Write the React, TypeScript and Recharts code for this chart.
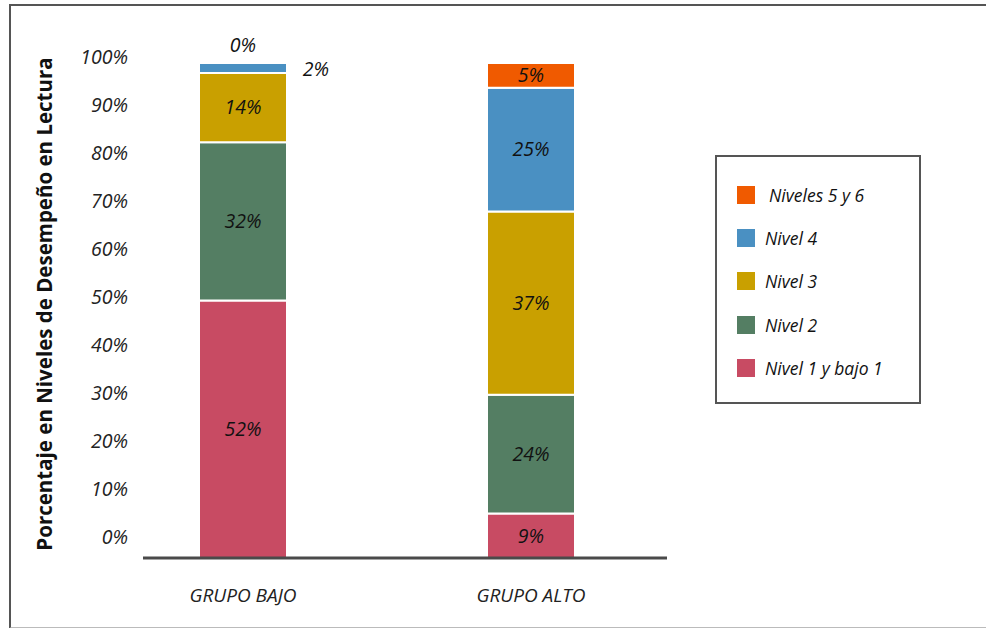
import React from "react";
import { BarChart, Bar, XAxis, YAxis, Legend, LabelList } from "recharts";

const categories = ["GRUPO BAJO", "GRUPO ALTO"];
const nivel1 = [52, 9];
const nivel2 = [32, 24];
const nivel3 = [14, 37];
const nivel4 = [2, 25];
const nivel56 = [0, 5];
const yTicks = [0, 10, 20, 30, 40, 50, 60, 70, 80, 90, 100];

const seriesDefs = [
  { key: "n1", name: "Nivel 1 y bajo 1", values: nivel1, color: "#C84B63" },
  { key: "n2", name: "Nivel 2", values: nivel2, color: "#547E63" },
  { key: "n3", name: "Nivel 3", values: nivel3, color: "#C9A000" },
  { key: "n4", name: "Nivel 4", values: nivel4, color: "#4A90C2" },
  { key: "n56", name: "Niveles 5 y 6", values: nivel56, color: "#F05A00" },
];

const data = categories.map((c, i) => {
  const row: any = { cat: c };
  seriesDefs.forEach((s) => (row[s.key] = s.values[i]));
  return row;
});

const FONT = "'Open Sans', 'DejaVu Sans', sans-serif";

const YTick = (props: any) => {
  const { x, y, payload } = props;
  const v = payload.value;
  const dy = -21 + 0.15 * v;
  return (
    <text x={x} y={y + dy} dy="0.35em" textAnchor="end" fontFamily={FONT} fontStyle="italic" fontSize={19.5} fill="#222">
      {v}%
    </text>
  );
};

const XTick = (props: any) => {
  const { x, y, payload } = props;
  return (
    <text x={x} y={y} dy="0.35em" textAnchor="middle" fontFamily={FONT} fontStyle="italic" fontSize={19} fill="#222">
      {payload.value}
    </text>
  );
};

const labelText = (tx: number, ty: number, v: number, key?: string) => (
  <text key={key} x={tx} y={ty} dy="0.35em" textAnchor="middle" fontFamily={FONT} fontStyle="italic" fontSize={19.5} fill="#111">
    {v}%
  </text>
);

const makeSegLabel = (seriesIndex: number) => (props: any) => {
  const { x, y, width, height, value, index } = props;
  if (value === 0 || value == null) return null;
  const parts: any[] = [];
  if (value < 3) {
    parts.push(labelText(x + width + 29, y + height / 2 + 1, value, "a"));
  } else {
    parts.push(labelText(x + width / 2, y + height / 2, value, "a"));
  }
  // zero-valued segments stacked directly above: label above the bar
  const above = seriesDefs.slice(seriesIndex + 1);
  if (above.length > 0 && above.every((s) => s.values[index] === 0)) {
    above.forEach((s, k) => parts.push(labelText(x + width / 2, y - 18 - k * 20, s.values[index], "z" + k)));
  }
  return <g>{parts}</g>;
};

const LegendBox = (props: any) => {
  const items = [...(props.payload || [])].reverse();
  return (
    <div
      style={{
        width: 206,
        height: 249,
        boxSizing: "border-box",
        border: "2px solid #555",
        background: "#fff",
        paddingTop: 16,
        paddingLeft: 20,
      }}
    >
      {items.map((it: any, i: number) => (
        <div key={i} style={{ display: "flex", alignItems: "center", height: 43.3 }}>
          <span style={{ display: "inline-block", width: 18, height: 18, background: it.color, marginRight: i === 0 ? 14 : 10 }} />
          <span style={{ fontFamily: FONT, fontStyle: "italic", fontSize: 17.5, color: "#111" }}>{it.value}</span>
        </div>
      ))}
    </div>
  );
};

export default function App() {
  return (
    <div style={{ position: "absolute", left: 0, top: 0, width: 986, height: 628, background: "#fff", overflow: "hidden" }}>
      <div
        style={{
          position: "absolute",
          left: 9,
          top: 4,
          width: 990,
          height: 621,
          borderTop: "2px solid #555",
          borderLeft: "2px solid #555",
          borderBottom: "2px solid #bbb",
        }}
      />
      <div style={{ position: "absolute", left: 0, top: 0 }}>
        <BarChart
          width={986}
          height={628}
          data={data}
          margin={{ top: 63, bottom: 0, left: 83, right: 319 }}
          barSize={88}
        >
          <XAxis
            dataKey="cat"
            padding={{ left: -44, right: -8 }}
            axisLine={{ stroke: "#4a4a4a", strokeWidth: 3 }}
            tickLine={false}
            tickSize={0}
            tickMargin={37}
            tick={<XTick />}
            height={70}
          />
          <YAxis
            domain={[0, 100]}
            ticks={yTicks}
            width={60}
            axisLine={false}
            tickLine={false}
            tickSize={0}
            tickMargin={15}
            tick={<YTick />}
            label={(p: any) => {
              const vb = p.viewBox || {};
              const cx = vb.x - 38;
              const cy = 304;
              return (
                <text
                  x={cx}
                  y={cy}
                  transform={`rotate(-90 ${cx} ${cy})`}
                  textAnchor="middle"
                  dy="0.35em"
                  fontFamily={FONT}
                  fontWeight="bold"
                  fontSize={20.5}
                  fill="#111"
                >
                  Porcentaje en Niveles de Desempeño en Lectura
                </text>
              );
            }}
          />
          <Legend
            layout="horizontal"
            verticalAlign="middle"
            align="center"
            content={<LegendBox />}
            wrapperStyle={{ position: "absolute", left: 715, top: 155, width: 206, height: 249 }}
          />
          {seriesDefs.map((s, si) => (
            <Bar
              key={s.key}
              dataKey={s.key}
              name={s.name}
              stackId="a"
              fill={s.color}
              stroke="#fff"
              strokeWidth={2}
              isAnimationActive={false}
            >
              <LabelList dataKey={s.key} content={makeSegLabel(si)} />
            </Bar>
          ))}
        </BarChart>
      </div>
    </div>
  );
}
